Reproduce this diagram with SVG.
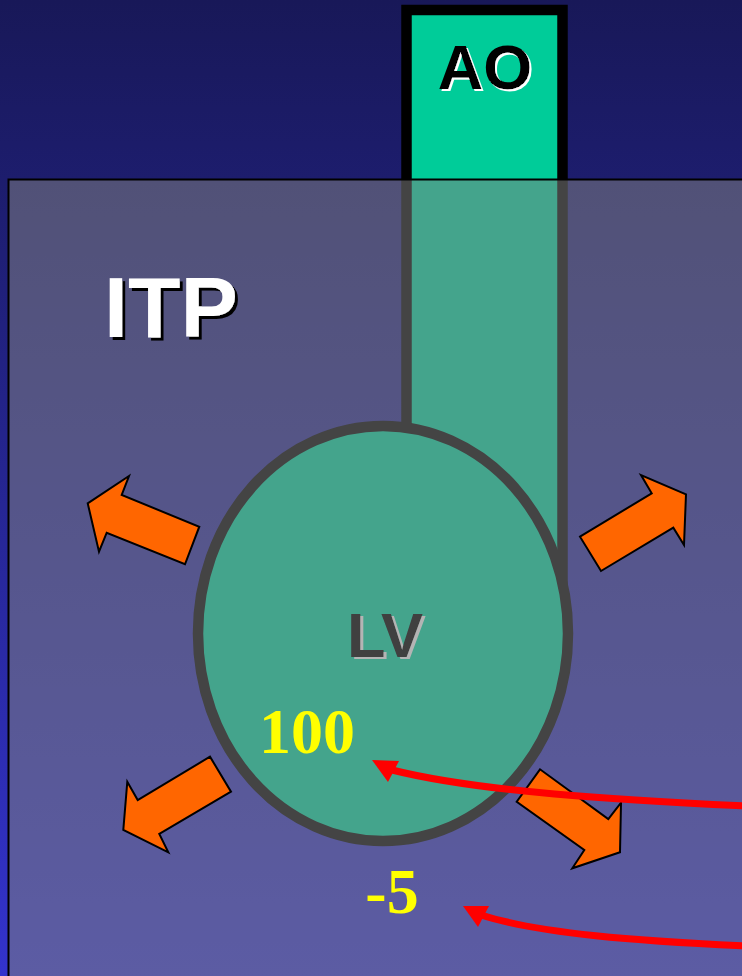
<svg xmlns="http://www.w3.org/2000/svg" width="742" height="976" viewBox="0 0 742 976">
<defs>
<linearGradient id="bg" x1="0" y1="0" x2="0" y2="1">
<stop offset="0" stop-color="#181858"/>
<stop offset="1" stop-color="#3333cc"/>
</linearGradient>
<filter id="shW" x="-10%" y="-10%" width="130%" height="130%">
<feDropShadow dx="2" dy="2" stdDeviation="0" flood-color="#ffffff" flood-opacity="1"/>
</filter>
<filter id="shK" x="-10%" y="-10%" width="130%" height="130%">
<feDropShadow dx="3" dy="3" stdDeviation="0" flood-color="#000000" flood-opacity="1"/>
</filter>
<filter id="shG" x="-10%" y="-10%" width="130%" height="130%">
<feDropShadow dx="3" dy="2" stdDeviation="0" flood-color="#b4b4b4" flood-opacity="1"/>
</filter>
<style>
.push{fill:#ff6600;stroke:#000;stroke-width:2;stroke-linejoin:miter}
.red{fill:none;stroke:#ff0000;stroke-width:7}
.val{font-family:"Liberation Serif","Times New Roman",serif;font-weight:bold;fill:#ffff00;font-size:64px}
.sans{font-family:"Liberation Sans",Arial,sans-serif;font-weight:bold}
</style>
</defs>
<rect x="0" y="0" width="742" height="976" fill="url(#bg)"/>
<g id="AO">
<rect x="406.5" y="10" width="156" height="620" fill="#00cc99" stroke="#000" stroke-width="10.5"/>
<text class="sans" x="485" y="89" font-size="63" text-anchor="middle" fill="#000000" filter="url(#shW)">AO</text>
</g>
<g id="LV">
<ellipse cx="383" cy="633.5" rx="185" ry="207.5" fill="#00cc99" stroke="#000" stroke-width="10.5"/>
</g>
<g id="ITP">
<rect x="8.5" y="179.5" width="740" height="800" fill="#808080" fill-opacity="0.53" stroke="#000" stroke-width="2"/>
<text class="sans" x="104" y="337" font-size="86" fill="#ffffff" filter="url(#shK)">ITP</text>
</g>
<g id="LV-label">
<text class="sans" x="385" y="657" font-size="63" text-anchor="middle" fill="#404040" filter="url(#shG)">LV</text>
</g>
<g id="pressure-arrows">
<polygon class="push" points="87.7,503.3 129,476 121.7,495 199.3,526.7 185,564.3 106.7,532.7 99,551.7"/>
<polygon class="push" points="686,494.3 641,475 651.7,493.3 580,536.7 601,571 673.3,527.7 684,545"/>
<polygon class="push" points="123.3,830 127.3,781.7 137.7,800 210,756.7 231,791.7 159.3,834 168.3,852.3"/>
<polygon class="push" points="620,852.3 572.3,868.3 584.3,850 516.7,801.7 540,769.3 608.3,819 621,802.7"/>
</g>
<g id="values">
<text class="val" x="307" y="753" text-anchor="middle">100</text>
<text class="val" x="392" y="913" text-anchor="middle">-5</text>
</g>
<g id="connectors">
<path class="red" d="M745,806 C620,800 480,792 392,770"/>
<polygon points="372,760 399,761 388,782" fill="#ff0000"/>
<path class="red" d="M745,946 C640,941 540,934 481,915"/>
<polygon points="463,906 489,906 478,927" fill="#ff0000"/>
</g>
</svg>
